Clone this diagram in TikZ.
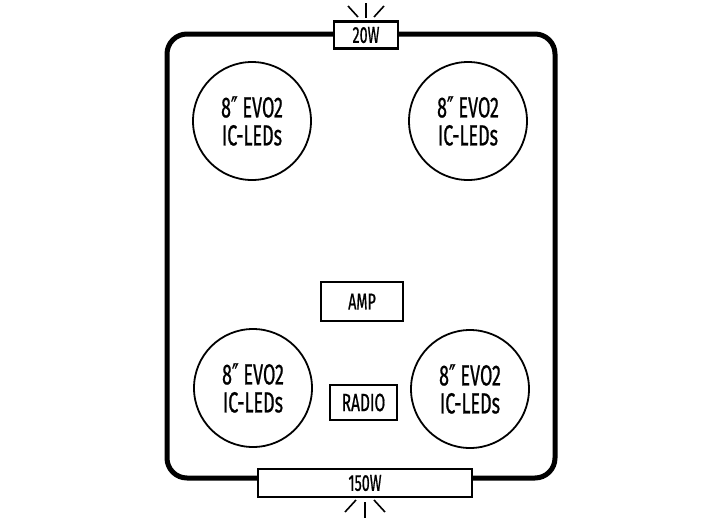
\documentclass[tikz,border=0pt]{standalone}
\usepackage{fontspec}
\setmainfont[FakeStretch=0.62,FakeBold=0.7]{Fira Sans}
\newfontfamily\symf[FakeStretch=0.62,FakeBold=0.7]{DejaVu Sans}
\newcommand{\dprime}{{\symf ″}}
\begin{document}
\begin{tikzpicture}[x=1pt,y=-1pt,
  frame/.style={line width=5pt,rounded corners=20pt},
  spk/.style={circle,draw,line width=1.8pt,minimum size=118pt,inner sep=0pt,align=center,font=\fontsize{29}{28}\selectfont},
  unit/.style={draw,line width=2.2pt,fill=white,inner sep=0pt,font=\fontsize{23}{23}\selectfont},
  ray/.style={line width=1.6pt}]
\useasboundingbox (0,0) rectangle (720,520);
\draw[frame] (167,34) rectangle (555,478);
\node[unit,minimum width=64pt,minimum height=27pt] (w20) at (366,35) {20W};
\node[unit,minimum width=214pt,minimum height=28pt] (w150) at (365,483) {150W};
\coordinate (t0) at (366,3); \coordinate (t1) at (366,18);
\draw[ray] (t0) -- (t1);
\draw[ray] (348,6) -- (358,17);
\draw[ray] (384,6) -- (374,17);
\draw[ray] (365,502) -- (365,518);
\draw[ray] (356,500) -- (345,512);
\draw[ray] (374,500) -- (385,512);
\node[spk] (s1) at (252,121) {8\dprime\ EVO2\\IC-LEDs};
\node[spk] (s2) at (468,121) {8\dprime\ EVO2\\IC-LEDs};
\node[spk] (s3) at (253,388) {8\dprime\ EVO2\\IC-LEDs};
\node[spk] (s4) at (470,389) {8\dprime\ EVO2\\IC-LEDs};
\node[unit,minimum width=82pt,minimum height=39pt] (amp) at (362,301.5) {AMP};
\node[unit,minimum width=67pt,minimum height=35pt,font=\fontsize{25}{25}\selectfont] (radio) at (363.5,402.5) {RADIO};
\end{tikzpicture}
\end{document}
